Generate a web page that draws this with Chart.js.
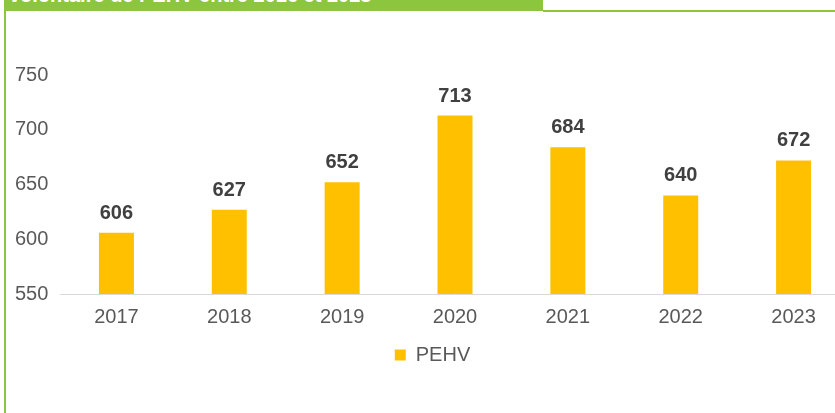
<!DOCTYPE html>
<html>
<head>
<meta charset="utf-8">
<script src="https://cdn.jsdelivr.net/npm/chart.js@4"></script>
<style>
  body { margin: 0; width: 835px; height: 413px; overflow: hidden; background: #fff; font-family: "Liberation Sans", Arial, sans-serif; }
  #head { position: absolute; left: 4px; top: 0; width: 539px; height: 11px; background: #8cc63f; overflow: hidden; }
  #head span { position: absolute; left: 5px; top: -15px; line-height: 20px; color: #fff; font-weight: bold; font-size: 20px; white-space: nowrap; }
  #topline { position: absolute; left: 543px; top: 10px; width: 292px; height: 2px; background: #8cc63f; }
  #leftline { position: absolute; left: 4px; top: 0; width: 2px; height: 413px; background: #8cc63f; }
  #wrap { position: absolute; left: 0; top: 0; width: 850px; height: 413px; }
</style>
</head>
<body>
<div id="head"><span>volontaire de PEHV entre 2016 et 2023</span></div>
<div id="topline"></div>
<div id="leftline"></div>
<div id="wrap"><canvas id="chart"></canvas></div>
<script>
// Data
const years = ['2017', '2018', '2019', '2020', '2021', '2022', '2023'];
const pehv = [606, 627, 652, 713, 684, 640, 672];
const seriesName = 'PEHV';

const fontFamily = '"Liberation Sans", Arial, sans-serif';

// draw the value above each bar
const valueLabels = {
    id: 'valueLabels',
    afterDatasetsDraw(chart) {
        const ctx = chart.ctx;
        const meta = chart.getDatasetMeta(0);
        ctx.save();
        ctx.font = 'bold 20px ' + fontFamily;
        ctx.fillStyle = '#404040';
        ctx.textAlign = 'center';
        ctx.textBaseline = 'alphabetic';
        meta.data.forEach((bar, i) => {
            ctx.fillText(pehv[i], bar.x, bar.y - 14);
        });
        ctx.restore();
    }
};

const ctx = document.getElementById('chart').getContext('2d');
new Chart(ctx, {
    type: 'bar',
    data: {
        labels: years,
        datasets: [{
            label: seriesName,
            data: pehv,
            backgroundColor: '#ffc000',
            barPercentage: 0.62,
            categoryPercentage: 0.5
        }]
    },
    options: {
        responsive: true,
        maintainAspectRatio: false,
        animation: false,
        layout: { padding: { left: 15, top: 75, right: 0, bottom: 38 } },
        plugins: {
            legend: {
                position: 'bottom',
                labels: {
                    boxWidth: 11,
                    boxHeight: 11,
                    padding: 13,
                    color: '#595959',
                    font: { size: 20, family: fontFamily }
                }
            },
            tooltip: { enabled: false }
        },
        scales: {
            x: {
                grid: { display: false },
                border: { display: true, color: '#d9d9d9', width: 1 },
                ticks: {
                    color: '#595959',
                    padding: 3,
                    font: { size: 20, family: fontFamily }
                }
            },
            y: {
                min: 550,
                max: 750,
                grid: { display: false },
                border: { display: false },
                afterFit(scale) { scale.width = 45; },
                ticks: {
                    stepSize: 50,
                    crossAlign: 'far',
                    color: '#595959',
                    font: { size: 20, family: fontFamily }
                }
            }
        }
    },
    plugins: [valueLabels]
});
</script>
</body>
</html>
